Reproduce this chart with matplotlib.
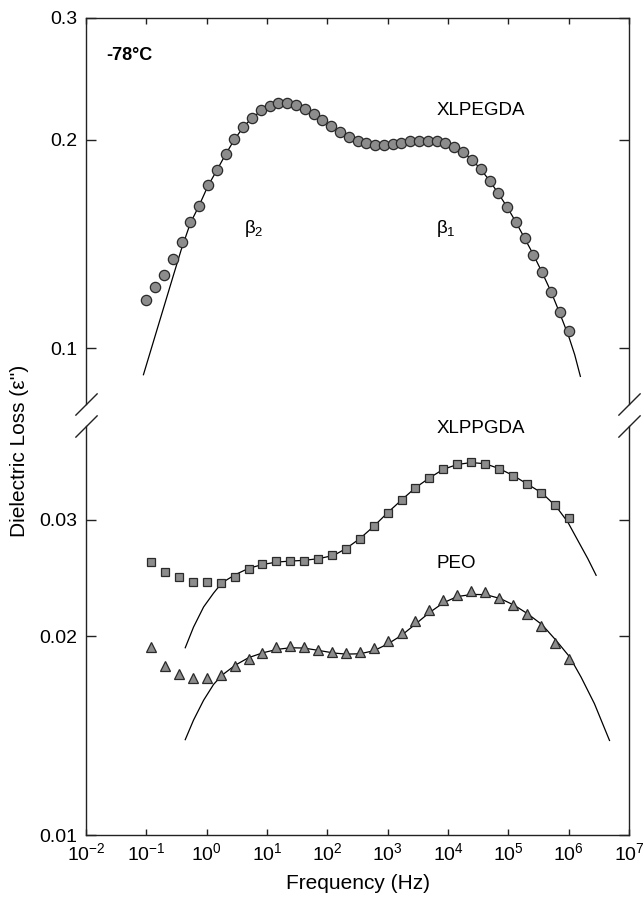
import numpy as np
import matplotlib
matplotlib.use('Agg')
import matplotlib.pyplot as plt
from matplotlib.ticker import FixedLocator, NullLocator, FixedFormatter, LogLocator, LogFormatterSciNotation

plt.rcParams['font.family'] = ['Liberation Sans', 'DejaVu Sans']
plt.rcParams['mathtext.fontset'] = 'custom'
plt.rcParams['mathtext.rm'] = 'Liberation Sans'
plt.rcParams['mathtext.it'] = 'Liberation Sans:italic'
plt.rcParams['mathtext.bf'] = 'Liberation Sans:bold'
plt.rcParams['mathtext.default'] = 'regular'
plt.rcParams['axes.unicode_minus'] = False

# ---------------- data ----------------
# XLPEGDA (circles): log10 frequency (Hz) and dielectric loss
xlpegda_logf = [-1.000, -0.854, -0.708, -0.563, -0.417, -0.271, -0.125, 0.021, 0.167, 0.313,
                0.458, 0.604, 0.750, 0.896, 1.042, 1.188, 1.333, 1.479, 1.625, 1.771,
                1.917, 2.063, 2.208, 2.354, 2.500, 2.646, 2.792, 2.938, 3.083, 3.229,
                3.375, 3.521, 3.667, 3.813, 3.958, 4.104, 4.250, 4.396, 4.542, 4.688,
                4.833, 4.979, 5.125, 5.271, 5.417, 5.563, 5.708, 5.854, 6.000]
xlpegda_eps = [0.1175, 0.1224, 0.1275, 0.1347, 0.1422, 0.1523, 0.1607, 0.1718, 0.1806, 0.1909,
               0.2003, 0.2086, 0.2152, 0.2205, 0.2240, 0.2257, 0.2257, 0.2244, 0.2215, 0.2176,
               0.2135, 0.2091, 0.2054, 0.2020, 0.1991, 0.1976, 0.1965, 0.1967, 0.1973, 0.1982,
               0.1991, 0.1995, 0.1995, 0.1991, 0.1978, 0.1954, 0.1922, 0.1870, 0.1816, 0.1745,
               0.1675, 0.1599, 0.1521, 0.1441, 0.1362, 0.1286, 0.1206, 0.1128, 0.1059]

# XLPPGDA (squares) and PEO (triangles) share frequencies
lower_logf = [-0.920, -0.689, -0.459, -0.228, 0.002, 0.233, 0.464, 0.694, 0.925, 1.155,
              1.386, 1.617, 1.847, 2.078, 2.308, 2.539, 2.770, 3.000, 3.231, 3.461,
              3.692, 3.922, 4.153, 4.384, 4.614, 4.845, 5.076, 5.306, 5.537, 5.768, 5.998]
xlppgda_eps = [0.02585, 0.02497, 0.02459, 0.02411, 0.02411, 0.02406, 0.02457, 0.02523, 0.02567, 0.02598,
               0.02601, 0.02601, 0.02616, 0.02653, 0.02712, 0.02808, 0.02931, 0.03074, 0.03213, 0.03353,
               0.03469, 0.03584, 0.03642, 0.03668, 0.03646, 0.03579, 0.03497, 0.03401, 0.03296, 0.03154,
               0.03021]
peo_eps = [0.01925, 0.01804, 0.01750, 0.01730, 0.01730, 0.01746, 0.01800, 0.01846, 0.01885, 0.01925,
           0.01934, 0.01925, 0.01907, 0.01894, 0.01885, 0.01889, 0.01920, 0.01963, 0.02021, 0.02108,
           0.02187, 0.02265, 0.02310, 0.02337, 0.02329, 0.02286, 0.02228, 0.02157, 0.02074, 0.01954,
           0.01848]

# fitted curves
fit_top_logf = [-1.048, -0.75, -0.55, -0.422, -0.271, -0.125, 0.021, 0.167, 0.313, 0.458,
                0.604, 0.75, 0.896, 1.04, 1.19, 1.33, 1.48, 1.625, 1.77, 1.92,
                2.06, 2.21, 2.35, 2.5, 2.65, 2.79, 2.94, 3.08, 3.23, 3.375,
                3.52, 3.67, 3.81, 3.96, 4.10, 4.25, 4.4, 4.54, 4.69, 4.83,
                4.98, 5.125, 5.27, 5.42, 5.56, 5.708, 5.854, 6.0, 6.1, 6.194]
fit_top_eps = [0.0915, 0.1116, 0.1275, 0.1387, 0.1515, 0.1607, 0.1715, 0.1806, 0.1905, 0.2000,
               0.2085, 0.2150, 0.2200, 0.2235, 0.2252, 0.2253, 0.2240, 0.2212, 0.2176, 0.2135,
               0.2091, 0.2054, 0.2022, 0.1994, 0.1976, 0.1967, 0.1966, 0.1972, 0.1981, 0.1990,
               0.1995, 0.1995, 0.1990, 0.1977, 0.1953, 0.1921, 0.1870, 0.1815, 0.1745, 0.1675,
               0.1599, 0.1521, 0.1441, 0.1362, 0.1286, 0.1206, 0.1122, 0.1040, 0.0978, 0.0910]

fit_xlppgda_logf = [-0.355, -0.218, -0.051, 0.115, 0.254, 0.475, 0.696, 0.935, 1.168, 1.389,
                    1.610, 1.859, 2.108, 2.308, 2.539, 2.770, 3.000, 3.231, 3.461, 3.692,
                    3.922, 4.153, 4.384, 4.614, 4.845, 5.076, 5.306, 5.558, 5.791, 5.985,
                    6.151, 6.317, 6.455]
fit_xlppgda_eps = [0.0192, 0.02063, 0.02213, 0.02323, 0.02408, 0.02477, 0.02532, 0.02567, 0.02588, 0.02597,
                   0.02603, 0.02619, 0.02649, 0.02712, 0.02808, 0.02931, 0.03074, 0.03213, 0.03353, 0.03469,
                   0.03575, 0.03635, 0.03660, 0.03645, 0.03585, 0.03500, 0.03400, 0.03291, 0.03142, 0.02975,
                   0.02791, 0.02619, 0.02471]

fit_peo_logf = [-0.355, -0.218, -0.051, 0.115, 0.254, 0.475, 0.696, 0.935, 1.168, 1.389,
                1.610, 1.859, 2.108, 2.308, 2.539, 2.770, 3.000, 3.231, 3.461, 3.692,
                3.922, 4.153, 4.407, 4.628, 4.866, 5.099, 5.321, 5.558, 5.791, 6.018,
                6.206, 6.427, 6.677]
fit_peo_eps = [0.01394, 0.01492, 0.01599, 0.01690, 0.01745, 0.01807, 0.01855, 0.01887, 0.01909, 0.01920,
               0.01918, 0.01902, 0.01885, 0.01878, 0.01880, 0.01900, 0.01945, 0.02005, 0.02085, 0.02170,
               0.02245, 0.02295, 0.02312, 0.02310, 0.02279, 0.02226, 0.02161, 0.02081, 0.01970, 0.01859,
               0.01733, 0.01580, 0.01390]

top_yticks = [0.1, 0.2, 0.3]
top_yticklabels = ['0.1', '0.2', '0.3']
bot_yticks = [0.01, 0.02, 0.03]
bot_yticklabels = ['0.01', '0.02', '0.03']

# ---------------- figure ----------------
W, H = 644, 897
fig = plt.figure(figsize=(W / 100, H / 100), dpi=100)
L, R = 86, 629
T1, B1 = 18, 404
T2, B2 = 426, 835
ax_top = fig.add_axes([L / W, 1 - B1 / H, (R - L) / W, (B1 - T1) / H])
ax_bot = fig.add_axes([L / W, 1 - B2 / H, (R - L) / W, (B2 - T2) / H])

face = '#8c8c8c'
edge = '#2a2a2a'
tick_fs = 14

for ax in (ax_top, ax_bot):
    ax.set_xscale('log')
    ax.set_yscale('log')
    ax.set_xlim(1e-2, 1e7)
    ax.xaxis.set_major_locator(LogLocator(base=10, numticks=20))
    ax.xaxis.set_minor_locator(NullLocator())
    ax.yaxis.set_minor_locator(NullLocator())
    for s in ax.spines.values():
        s.set_linewidth(1.0)
        s.set_color('#222222')
    ax.tick_params(axis='y', which='major', direction='in', length=7.5, width=1.0,
                   left=True, right=True, labelsize=tick_fs, colors='#222222', labelcolor='black', pad=6)
    ax.tick_params(axis='x', which='major', direction='in', length=4.5, width=1.0,
                   labelsize=tick_fs, colors='#222222', labelcolor='black', pad=5)

# top panel
ax_top.set_ylim(0.0830, 0.3)
ax_top.yaxis.set_major_locator(FixedLocator(top_yticks))
ax_top.yaxis.set_major_formatter(FixedFormatter(top_yticklabels))
ax_top.spines['bottom'].set_visible(False)
ax_top.tick_params(axis='x', bottom=False, top=True, labelbottom=False, labeltop=False)

ax_top.plot(10 ** np.array(fit_top_logf), fit_top_eps, color='black', lw=0.9, zorder=2)
ax_top.plot(10 ** np.array(xlpegda_logf), xlpegda_eps, linestyle='none', marker='o',
            ms=7.4, mfc=face, mec=edge, mew=0.9, zorder=3)

# bottom panel
ax_bot.set_ylim(0.01, 0.04157)
ax_bot.yaxis.set_major_locator(FixedLocator(bot_yticks))
ax_bot.yaxis.set_major_formatter(FixedFormatter(bot_yticklabels))
ax_bot.spines['top'].set_visible(False)
ax_bot.tick_params(axis='x', bottom=True, top=False, labelbottom=True)
ax_bot.xaxis.set_major_formatter(LogFormatterSciNotation())

ax_bot.plot(10 ** np.array(fit_xlppgda_logf), fit_xlppgda_eps, color='black', lw=0.9, zorder=2)
ax_bot.plot(10 ** np.array(fit_peo_logf), fit_peo_eps, color='black', lw=0.9, zorder=2)
ax_bot.plot(10 ** np.array(lower_logf), xlppgda_eps, linestyle='none', marker='s',
            ms=6.4, mfc=face, mec=edge, mew=0.9, zorder=3)
ax_bot.plot(10 ** np.array(lower_logf), peo_eps, linestyle='none', marker='^',
            ms=7.4, mfc=face, mec=edge, mew=0.9, zorder=3)

# break marks
bk = dict(marker=[(-1, -1), (1, 1)], markersize=16, linestyle='none', color='#222222',
          mec='#222222', mew=1.0, clip_on=False)
ax_top.plot([0, 1], [0, 0], transform=ax_top.transAxes, **bk)
ax_bot.plot([0, 1], [1, 1], transform=ax_bot.transAxes, **bk)

# annotations (positions in pixels converted to axes fractions)
def top_pos(px, py):
    return (px - L) / (R - L), (B1 - py) / (B1 - T1)

def bot_pos(px, py):
    return (px - L) / (R - L), (B2 - py) / (B2 - T2)

ax_top.text(*top_pos(106, 55), '-78°C', transform=ax_top.transAxes, fontsize=13,
            fontweight='bold', ha='left', va='center')
ax_top.text(*top_pos(437, 110), 'XLPEGDA', transform=ax_top.transAxes, fontsize=13.5,
            ha='left', va='center')
ax_top.text(*top_pos(244, 228), r'$β_2$', transform=ax_top.transAxes, fontsize=13.5,
            ha='left', va='center')
ax_top.text(*top_pos(436.5, 228), r'$β_1$', transform=ax_top.transAxes, fontsize=13.5,
            ha='left', va='center')
ax_bot.text(*bot_pos(437, 428), 'XLPPGDA', transform=ax_bot.transAxes, fontsize=13.5,
            ha='left', va='center', clip_on=False)
ax_bot.text(*bot_pos(437, 563), 'PEO', transform=ax_bot.transAxes, fontsize=13.5,
            ha='left', va='center')

fig.text(20 / W, 1 - 451 / H, "Dielectric Loss (ε'')", rotation=90, fontsize=15,
         ha='center', va='center')
fig.text((L + R) / 2 / W, 1 - 883 / H, 'Frequency (Hz)', fontsize=15,
         ha='center', va='center')

fig.savefig('out.png', dpi=100)
